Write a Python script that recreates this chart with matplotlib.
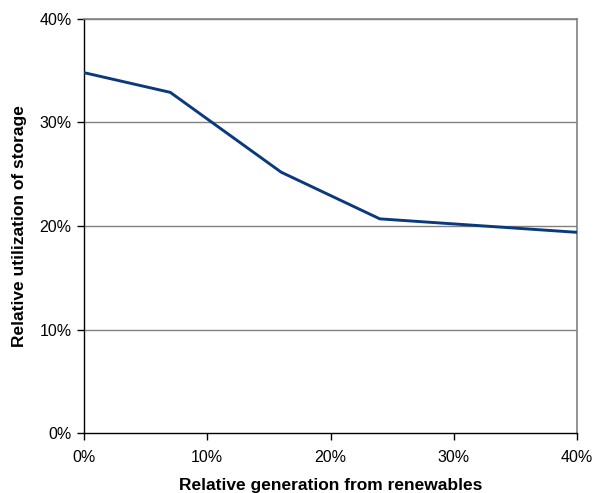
import numpy as np
import matplotlib.pyplot as plt
from matplotlib.ticker import PercentFormatter

plt.rcParams['font.family'] = ['Liberation Sans', 'DejaVu Sans']

# share of renewables (%) vs. relative storage utilization (%)
renewables = [0, 7, 16, 24, 40]
utilization = [34.8, 32.9, 25.2, 20.7, 19.4]
x_ticks = [0, 10, 20, 30, 40]
y_ticks = [0, 10, 20, 30, 40]

fig = plt.figure(figsize=(5.94, 4.93), dpi=100)
ax = fig.add_axes([0.1414, 0.1207, 0.830, 0.8413])

for t in y_ticks[1:]:
    ax.axhline(t, color='#808080', lw=1.0, zorder=1)

ax.plot(renewables, utilization, color='#0b3a7c', lw=2.1, zorder=3,
        solid_joinstyle='miter')

ax.set_xlim(0, 40)
ax.set_ylim(0, 40)
ax.set_xticks(x_ticks)
ax.set_yticks(y_ticks)
ax.xaxis.set_major_formatter(PercentFormatter(decimals=0))
ax.yaxis.set_major_formatter(PercentFormatter(decimals=0))
ax.tick_params(direction='out', length=5, width=1, labelsize=11.5, colors='black')
ax.tick_params(axis='x', pad=7)
ax.tick_params(axis='y', pad=4)

for side in ('left', 'bottom'):
    ax.spines[side].set_color('black')
    ax.spines[side].set_linewidth(1.0)
for side in ('top', 'right'):
    ax.spines[side].set_color('#808080')
    ax.spines[side].set_linewidth(1.2)

ax.set_xlabel('Relative generation from renewables', fontsize=12.5, fontweight='bold', labelpad=9)
ax.set_ylabel('Relative utilization of storage', fontsize=12.5, fontweight='bold', labelpad=9)

fig.savefig('out.png', dpi=100)
